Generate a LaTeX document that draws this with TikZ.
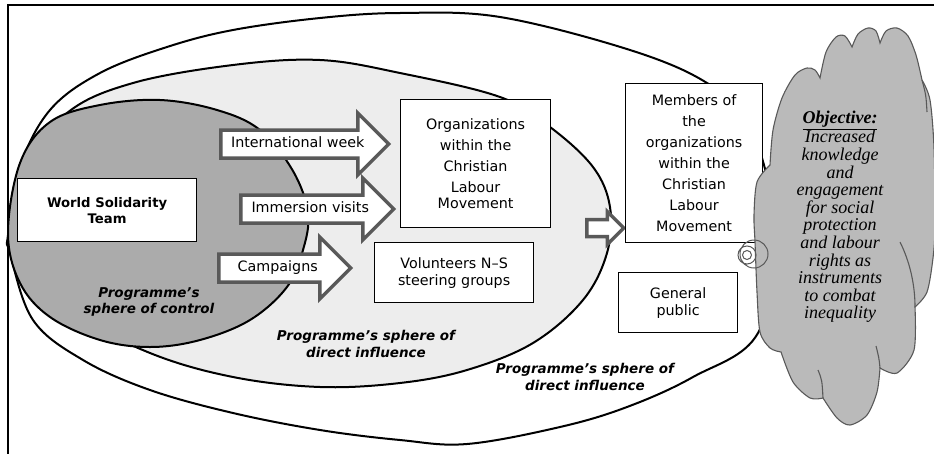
\documentclass[tikz,border=0pt]{standalone}
\usepackage{fontspec}
\setmainfont{DejaVu Sans}
\newfontfamily\goalfont{Liberation Serif}
\usetikzlibrary{shapes.arrows}

\definecolor{ctrlgray}{gray}{0.67}
\definecolor{inflgray}{gray}{0.93}
\definecolor{cloudgray}{gray}{0.73}
\definecolor{rimgray}{gray}{0.35}

\begin{document}
\begin{tikzpicture}[x=1pt,y=-1pt,
  box/.style={draw,line width=1.2pt,fill=white,align=center,inner sep=0pt,
    anchor=north west,font=\fontsize{14.3}{21}\selectfont},
  flow/.style={single arrow,draw=rimgray,line width=3.5pt,fill=white,
    single arrow head extend=17pt,inner xsep=4pt,inner ysep=5pt,
    text height=11pt,text depth=3.5pt,anchor=tail,
    font=\fontsize{14.3}{17}\selectfont},
  sphere/.style={align=center,font=\fontsize{13.5}{16.5}\selectfont\bfseries\itshape},
  puff/.style={rimgray,line width=1.1pt}]

\useasboundingbox (0,0) rectangle (934,453);
\clip (0,0) rectangle (934,453);

\filldraw[fill=white,line width=2pt] plot[smooth cycle,tension=0.6] coordinates {
  (8,235) (20,167) (50,110) (100,73) (167,47) (233,30) (320,18) (400,13)
  (500,17) (630,50) (707,83) (750,125) (775,230) (758,333) (693,377)
  (627,407) (560,427) (467,444) (400,440) (320,430) (233,413) (150,390)
  (83,360) (33,320) (10,253)};
\filldraw[fill=inflgray,line width=2pt] plot[smooth cycle,tension=0.6] coordinates {
  (8,237) (20,173) (67,113) (133,83) (233,65) (320,60) (400,73) (500,97)
  (550,127) (593,167) (610,207) (607,253) (583,300) (533,343) (467,370)
  (400,383) (320,387) (233,377) (150,353) (67,310) (20,260)};
\filldraw[fill=ctrlgray,line width=2pt] plot[smooth cycle,tension=0.6] coordinates {
  (8,233) (20,163) (50,122) (100,105) (160,100) (217,110) (260,130)
  (293,171) (308,213) (303,250) (287,287) (250,320) (200,340) (150,347)
  (100,340) (50,317) (20,283)};
\draw[line width=2pt] (8,5) rectangle (960,470);

\node[box,minimum width=179,minimum height=63,
  font=\fontsize{13.2}{16}\selectfont\bfseries] (team) at (17,178)
  {World Solidarity\\Team};

\node[flow,minimum height=168] (week) at (219,144) {International week};
\node[flow,minimum height=153] (visits) at (239,209) {Immersion visits};
\node[flow,minimum height=132] (campaigns) at (217,268) {Campaigns};

\node[box,minimum width=150,minimum height=128] (orgs) at (400,99)
  {Organizations\\within the\\Christian\\Labour\\[-4.5pt]Movement};
\node[box,minimum width=159,minimum height=60] (vols) at (374,242)
  {Volunteers N–S\\[-4pt]steering groups};

\node[flow,minimum height=37,text height=0pt,text depth=0pt,inner ysep=6.75pt,
  single arrow head extend=8pt] (push) at (585,228) {};

\node[box,minimum width=137,minimum height=159] (members) at (625,83)
  {Members of\\the\\organizations\\within the\\Christian\\Labour\\Movement};
\node[box,minimum width=119,minimum height=60] (public) at (618,272)
  {General\\[-4pt]public};

\node[sphere] (ctrl) at (149,302) {Programme’s\\sphere of control};
\node[sphere] (direct) at (366,344) {Programme’s sphere of\\direct influence};
\node[sphere] (indirect) at (585,377) {Programme’s sphere of\\direct influence};

% objective cloud
\filldraw[puff,fill=cloudgray]
  plot[smooth] coordinates {(770,165) (773,130) (782,98) (795,75) (807,68)
       (815,70) (820,78)}
  -- plot[smooth] coordinates {(820,78) (826,52) (836,37) (845,36) (852,47)}
  -- plot[smooth] coordinates {(852,47) (858,34) (868,28) (876,31) (880,43)}
  -- plot[smooth] coordinates {(880,43) (886,31) (897,28) (908,36) (916,55)
       (922,80)}
  -- plot[smooth] coordinates {(922,80) (930,100) (934,148) (935,225) (933,258)
       (927,292) (915,307)}
  -- plot[smooth] coordinates {(915,307) (914,350) (897,373) (880,368)}
  -- plot[smooth] coordinates {(880,368) (877,392) (867,415) (850,425) (837,418)
       (823,398)}
  -- plot[smooth] coordinates {(823,398) (810,398) (793,382) (781,352)}
  -- plot[smooth] coordinates {(781,352) (770,348) (760,332) (757,292) (755,242)
       (754,215) (757,182) (770,165)}
  -- cycle;
\draw[puff] (818,370) .. controls (822,380) .. (823,398)
  (876,346) .. controls (879,358) .. (880,368)
  (900,242) .. controls (910,262) and (915,285) .. (915,307)
  (922,80) .. controls (926,95) .. (927,112);
\draw[rimgray,line width=1pt] (747,255) circle (9) (747,255) circle (4.5)
  (754,254) circle (14);
\node[align=center,font=\goalfont\itshape\fontsize{18}{17.6}\selectfont] (goal)
  at (840,217) {\textbf{\underline{Objective:}}\\Increased\\knowledge\\and\\engagement\\
  for social\\protection\\and labour\\rights as\\instruments\\to combat\\inequality};
\end{tikzpicture}
\end{document}
